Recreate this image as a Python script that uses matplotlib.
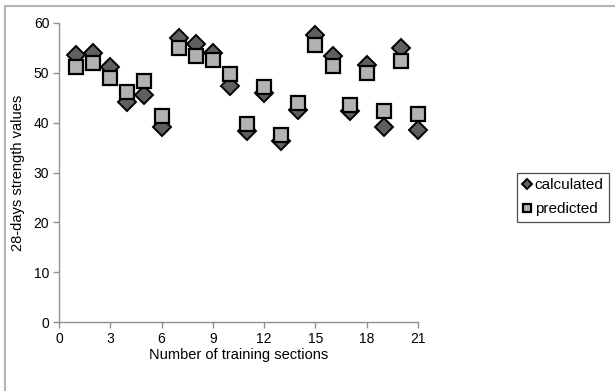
import matplotlib
matplotlib.use("Agg")
import matplotlib.pyplot as plt
from matplotlib.patches import Rectangle

plt.rcParams["font.family"] = ["Liberation Sans", "DejaVu Sans"]

sections = list(range(1, 22))
calculated = [53.6, 54.0, 51.2, 44.2, 45.6, 39.2, 57.0, 55.8, 54.0, 47.3,
              38.3, 46.0, 36.3, 42.5, 57.5, 53.3, 42.3, 51.5, 39.2, 55.0, 38.5]
predicted = [51.1, 52.0, 48.9, 46.1, 48.3, 41.4, 55.0, 53.3, 52.5, 49.7,
             39.8, 47.2, 37.6, 44.0, 55.5, 51.3, 43.5, 50.0, 42.3, 52.3, 41.8]

x_ticks = [0, 3, 6, 9, 12, 15, 18, 21]
y_ticks = [0, 10, 20, 30, 40, 50, 60]

fig = plt.figure(figsize=(6.15, 3.91), dpi=100)

# outer chart frame, cropped by the image edge
fig.patches.append(Rectangle((5 / 615, -0.2), 1.2, 1.2 - 6 / 391,
                             transform=fig.transFigure, fill=False,
                             edgecolor="#b4b4b4", linewidth=1.5))

ax = fig.add_axes([59 / 615, 1 - 322 / 391, (418 - 59) / 615, (322 - 23) / 391])

ax.plot(sections, calculated, linestyle="none", marker="D", markersize=9,
        markerfacecolor="#5f5f5f", markeredgecolor="black", markeredgewidth=1.4,
        label="calculated", clip_on=False)
ax.plot(sections, predicted, linestyle="none", marker="s", markersize=10.5,
        markerfacecolor="#b2b2b2", markeredgecolor="black", markeredgewidth=1.6,
        label="predicted", clip_on=False)

ax.set_xlim(0, 21)
ax.set_ylim(0, 60)
ax.set_xticks(x_ticks)
ax.set_yticks(y_ticks)
for side in ["top", "right"]:
    ax.spines[side].set_visible(False)
for side in ["left", "bottom"]:
    ax.spines[side].set_color("#909090")
    ax.spines[side].set_linewidth(1.0)
ax.tick_params(direction="out", length=4, width=1.0, color="#909090",
               labelsize=10, pad=3)
ax.set_xlabel("Number of training sections", fontsize=10.5, labelpad=2)
ax.set_ylabel("28-days strength values", fontsize=10.5, labelpad=6)

leg = fig.legend(loc="upper left", bbox_to_anchor=(517 / 615, 1 - 173 / 391),
                 frameon=True, fancybox=False, fontsize=11, handlelength=0.6,
                 handletextpad=0.2, borderpad=0.35, labelspacing=0.65,
                 markerscale=0.6, borderaxespad=0)
leg.get_frame().set_edgecolor("#202020")
leg.get_frame().set_linewidth(0.9)

fig.savefig("out.png", dpi=100)
